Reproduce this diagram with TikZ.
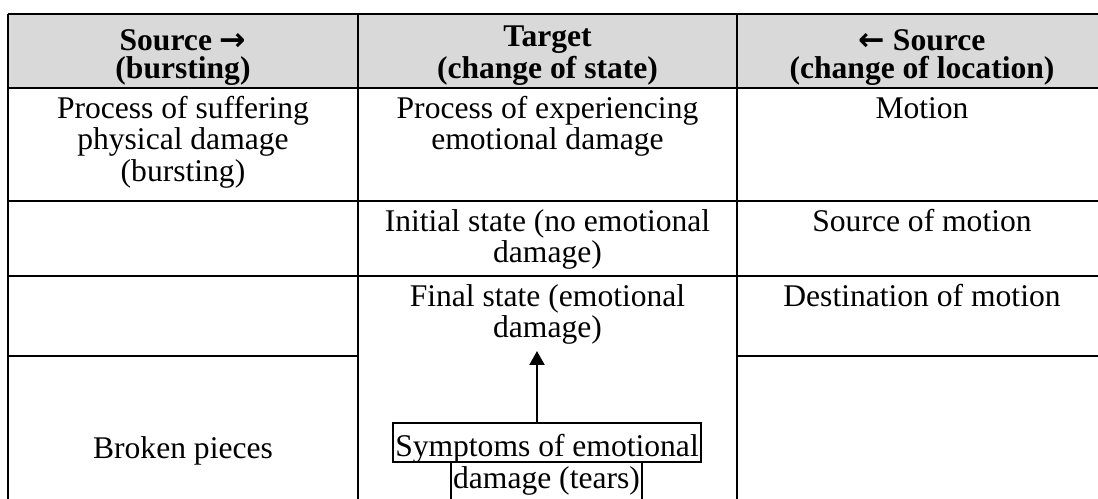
\documentclass[tikz,border=0pt]{standalone}
\usepackage{fontspec}
\setmainfont{Liberation Serif}
\newfontfamily\arrfont{DejaVu Sans}
\usetikzlibrary{arrows.meta}
\definecolor{hdr}{HTML}{D9D9D9}
\newcommand{\rarr}{{\arrfont\bfseries →}}
\newcommand{\larr}{{\arrfont\bfseries ←}}
\begin{document}
\begin{tikzpicture}[x=0.38pt,y=-0.38pt,
  grid/.style={line width=0.75pt},
  cell/.style={inner sep=0pt, align=center, anchor=base, font=\fontsize{12}{11.97}\selectfont},
  head/.style={cell, font=\fontsize{12}{10.64}\selectfont\bfseries},
  tbox/.style={draw, line width=0.75pt, inner ysep=0pt, inner xsep=0.9pt, font=\fontsize{12}{11.97}\selectfont},
  conn/.style={line width=0.75pt, -{Triangle[length=5.3pt,width=5.7pt]}}]
\useasboundingbox (0,0) rectangle (1098,498);
\clip (0,0) rectangle (1098,498);
% header background
\fill[hdr] (8,14) rectangle (1107,88);
% grid
\draw[grid] (8,14) -- (1107,14);
\draw[grid] (8,88) -- (1107,88);
\draw[grid] (8,201) -- (1107,201);
\draw[grid] (8,276) -- (1107,276);
\draw[grid] (8,356) -- (358,356);
\draw[grid] (737,356) -- (1107,356);
\draw[grid] (8,14) -- (8,510);
\draw[grid] (358,14) -- (358,510);
\draw[grid] (737,14) -- (737,510);
\draw[grid] (1107,14) -- (1107,510);
% header (anchor = baseline of last line)
\node[head] (h1) at (183,78) {Source \rarr\\(bursting)};
\node[head] (h2) at (547.5,78) {Target\\(change of state)};
\node[head] (h3) at (922,78) {\larr{} Source\\(change of location)};
% row 1
\node[cell] (c11) at (183,181) {Process of suffering\\physical damage\\(bursting)};
\node[cell] (c12) at (547.5,149.5) {Process of experiencing\\emotional damage};
\node[cell] (c13) at (922,118) {Motion};
% row 2
\node[cell] (c22) at (547.5,262.5) {Initial state (no emotional\\damage)};
\node[cell] (c23) at (922,231) {Source of motion};
% row 3
\node[cell] (c32) at (547.5,337.5) {Final state (emotional\\damage)};
\node[cell] (c33) at (922,306) {Destination of motion};
% row 4
\node[cell] (c41) at (183,458) {Broken pieces};
\node[tbox, anchor=base, text height=12.54pt, text depth=2.28pt] (sym1) at (547,456) {Symptoms of emotional};
\node[tbox, anchor=base, text height=9.88pt, text depth=6pt] (sym2) at (546.5,488) {damage (tears)};
\coordinate (tip) at (537,351);
\draw[conn] (sym1.north -| tip) -- (tip);
\end{tikzpicture}
\end{document}
